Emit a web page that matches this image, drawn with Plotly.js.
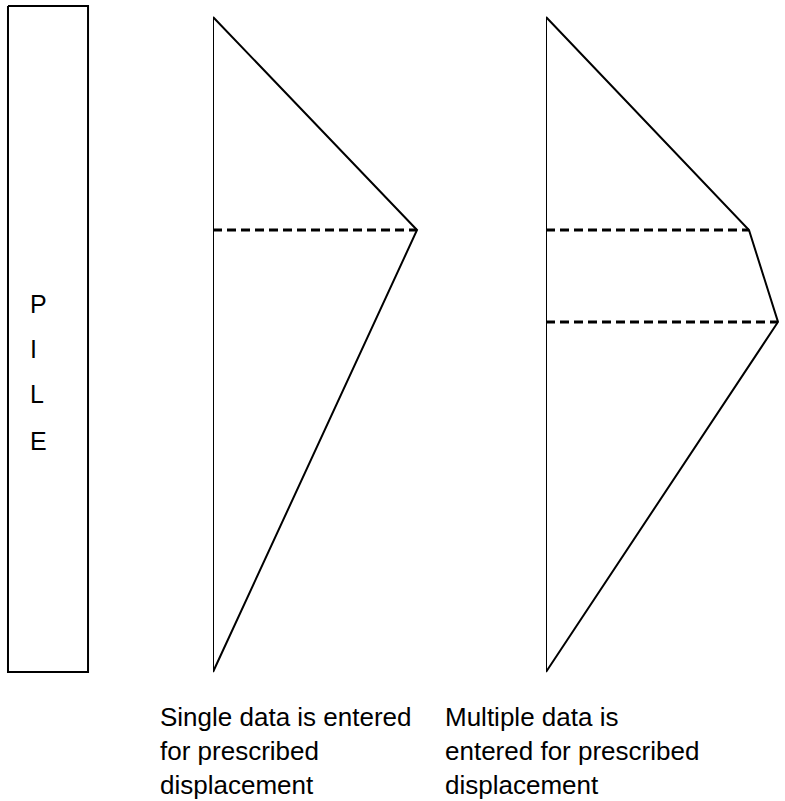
<!DOCTYPE html>
<html>
<head>
<meta charset="utf-8">
<script src="https://cdn.plot.ly/plotly-3.0.1.min.js"></script>
<style>html,body{margin:0;padding:0;background:#fff;}#chart{width:785px;height:801px;}</style>
</head>
<body>
<div id="chart"></div>
<script>
// ---- data (depth measured downward from top of profile; displacement to the right) ----
const pileTop = -0.168;          // depth of pile head
const pileBottom = 10.0;         // depth of pile toe
const pileLeft = 0.122;
const pileRight = 1.344;
const pileLetters = ["P", "I", "L", "E"];
const pileLetterDepths = [4.382, 5.069, 5.763, 6.473];

// single prescribed displacement profile
const singleDepth = [0, 3.252, 10.0];
const singleDisp  = [0, 3.115, 0];

// multiple prescribed displacement profile
const multiDepth = [0, 3.252, 4.656, 10.0];
const multiDisp  = [0, 3.099, 3.542, 0];

const captionSingle = ["Single data is entered", "for prescribed", "displacement"];
const captionMulti  = ["Multiple data is", "entered for prescribed", "displacement"];

// ---- build traces ----
const W = 785, H = 801, kPx = 65.5, topPx = 17;
const solid = {color: "#000", width: 2};
const dashed = {color: "#000", width: 3, dash: "9px,5px"};
const traces = [];

// pile outline
traces.push({type: "scatter", mode: "lines", xaxis: "x", yaxis: "y",
  x: [pileLeft, pileRight, pileRight, pileLeft, pileLeft],
  y: [pileTop, pileTop, pileBottom, pileBottom, pileTop],
  line: solid, hoverinfo: "skip"});

function profile(axis, depth, disp) {
  const last = depth.length - 1;
  traces.push({type: "scatter", mode: "lines", xaxis: axis, yaxis: "y",
    x: [0, 0], y: [depth[0], depth[last]], line: solid, hoverinfo: "skip"});
  traces.push({type: "scatter", mode: "lines", xaxis: axis, yaxis: "y",
    x: disp, y: depth, line: solid, hoverinfo: "skip"});
  for (let i = 1; i < last; i++) {
    traces.push({type: "scatter", mode: "lines", xaxis: axis, yaxis: "y",
      x: [0, disp[i]], y: [depth[i], depth[i]], line: dashed, hoverinfo: "skip"});
  }
}
profile("x2", singleDepth, singleDisp);
profile("x3", multiDepth, multiDisp);

const font = {family: "Liberation Sans, Arial, sans-serif", size: 26, color: "#000"};
const annotations = [];
pileLetters.forEach((t, i) => annotations.push({
  text: t, x: 28 / kPx, y: pileLetterDepths[i], xref: "x", yref: "y",
  showarrow: false, font: Object.assign({}, font, {size: 25}), xanchor: "left", yanchor: "middle"}));
const capPx = [717, 751, 785];
captionSingle.forEach((t, i) => annotations.push({
  text: t, x: 158 / W, xref: "paper", y: 1 - capPx[i] / H, yref: "paper",
  showarrow: false, font: font, xanchor: "left", yanchor: "middle"}));
captionMulti.forEach((t, i) => annotations.push({
  text: t, x: 443 / W, xref: "paper", y: 1 - capPx[i] / H, yref: "paper",
  showarrow: false, font: font, xanchor: "left", yanchor: "middle"}));

const hidden = {visible: false, showgrid: false, zeroline: false, fixedrange: true};
const layout = {
  width: W, height: H, margin: {l: 0, r: 0, t: 0, b: 0, pad: 0},
  paper_bgcolor: "#fff", plot_bgcolor: "#fff", showlegend: false,
  xaxis:  Object.assign({}, hidden, {domain: [0, 1], range: [0, W / kPx]}),
  xaxis2: Object.assign({}, hidden, {domain: [213 / W, 1], range: [0, (W - 213) / kPx]}),
  xaxis3: Object.assign({}, hidden, {domain: [546 / W, 1], range: [0, (W - 546) / kPx]}),
  yaxis:  Object.assign({}, hidden, {range: [(H - topPx) / kPx, -topPx / kPx]}),
  annotations: annotations
};
Plotly.newPlot("chart", traces, layout, {staticPlot: true, displayModeBar: false});
</script>
</body>
</html>
